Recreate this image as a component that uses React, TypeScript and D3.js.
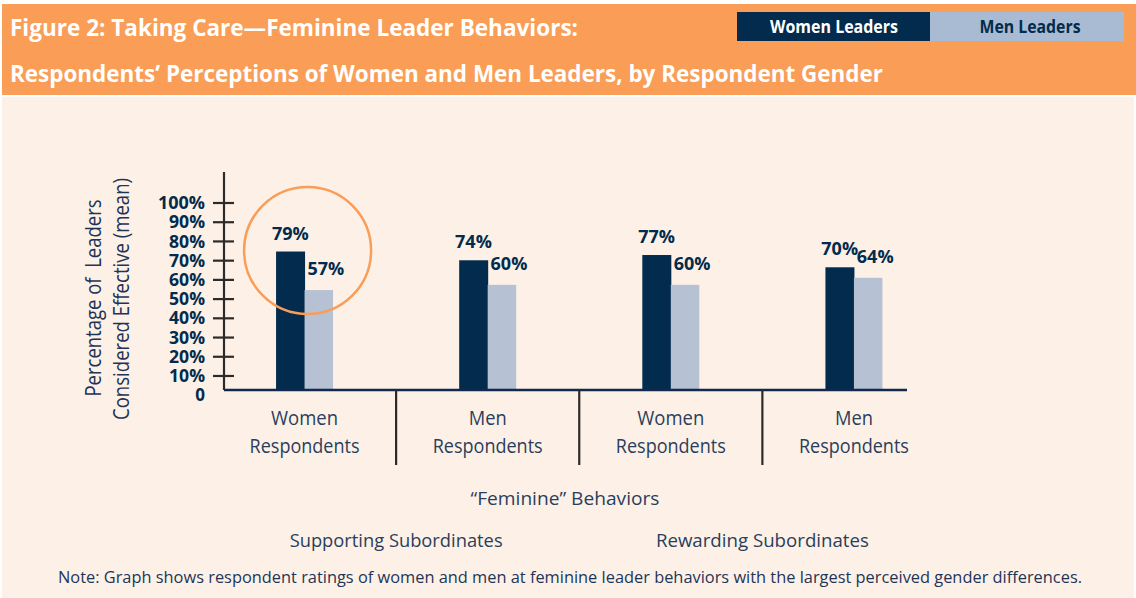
import React from "react";
import * as d3 from "d3";

const categories = ["Women Respondents", "Men Respondents", "Women Respondents", "Men Respondents"];
const womenLeaders = [79, 74, 77, 70];
const menLeaders = [57, 60, 60, 64];
const seriesNames = ["Women Leaders", "Men Leaders"];
const yTicks = [0, 10, 20, 30, 40, 50, 60, 70, 80, 90, 100];
const behaviors = ["Supporting Subordinates", "Rewarding Subordinates"];

const W = 1136;
const H = 598;
const NAVY = "#022b4d";
const LIGHT = "#b6c1d3";
const LEGEND_LIGHT = "#a9bbd3";
const ORANGE = "#f99d57";
const CREAM = "#fdf1e7";
const TEXT = "#1d3557";
const CAT = "#2a3e5c";
const FONT = "'Open Sans', 'Noto Sans', sans-serif";

function T(props: any) {
  const { w, children, ...rest } = props;
  return (
    <text
      fontFamily={FONT}
      textLength={w}
      lengthAdjust={w ? "spacingAndGlyphs" : undefined}
      {...rest}
    >
      {children}
    </text>
  );
}

export default function App() {
  const x = d3.scaleBand<number>().domain(d3.range(categories.length)).range([213, 945.5]).padding(0);
  const series = d3.scaleBand<string>().domain(seriesNames).range([0, 57]);
  const yBar = d3.scaleLinear().domain([0, 100]).range([390, 214.7]);
  const yTick = d3.scaleLinear().domain([0, 100]).range([395.2, 203]);
  const center = (i: number) => (x(i) as number) + x.bandwidth() / 2;
  const barX = (i: number, s: string) => center(i) - 28.5 + (series(s) as number);
  const bw = series.bandwidth();

  const axisX = 224;
  const baseY = 390;

  return (
    <svg width={W} height={H} style={{ position: "absolute", left: 0, top: 0 }}>
      <rect x={0} y={0} width={W} height={H} fill="#ffffff" />
      <rect x={2} y={4} width={W - 2} height={91} fill={ORANGE} />
      <rect x={2} y={97} width={W - 4} height={H - 97} fill={CREAM} />

      {/* Title */}
      <T x={10} y={36} fontSize={24} fontWeight={700} fill="#ffffff" w={568}>
        Figure 2: Taking Care—Feminine Leader Behaviors:
      </T>
      <T x={10} y={82} fontSize={24} fontWeight={700} fill="#ffffff" w={873}>
        Respondents’ Perceptions of Women and Men Leaders, by Respondent Gender
      </T>

      {/* Legend */}
      <rect x={737} y={12} width={193} height={29} fill={NAVY} />
      <rect x={930} y={12} width={194} height={29} fill={LEGEND_LIGHT} />
      <T x={834} y={33} fontSize={18} fontWeight={700} fill="#ffffff" textAnchor="middle" w={128}>
        {seriesNames[0]}
      </T>
      <T x={1030} y={33} fontSize={18} fontWeight={700} fill={NAVY} textAnchor="middle" w={101}>
        {seriesNames[1]}
      </T>

      {/* Y axis title */}
      <g transform="translate(101,298) rotate(-90)">
        <T x={0} y={0} fontSize={21} fill={TEXT} textAnchor="middle" w={197} style={{ whiteSpace: "pre" }}>
          {"Percentage of  Leaders"}
        </T>
      </g>
      <g transform="translate(129,299) rotate(-90)">
        <T x={0} y={0} fontSize={21} fill={TEXT} textAnchor="middle" w={242}>
          Considered Effective (mean)
        </T>
      </g>

      {/* Y axis */}
      <line x1={axisX} x2={axisX} y1={172} y2={baseY} stroke="#2d2a2a" strokeWidth={2.2} />
      {yTicks.filter((t) => t > 0).map((t) => (
        <line key={"t" + t} x1={213} x2={234} y1={yTick(t)} y2={yTick(t)} stroke="#2d2a2a" strokeWidth={2.2} />
      ))}
      {yTicks.map((t) => (
        <T
          key={"l" + t}
          x={205}
          y={yTick(t)}
          dy="0.36em"
          fontSize={17}
          fontWeight={700}
          fill={NAVY}
          textAnchor="end"
          w={t === 0 ? undefined : t === 100 ? 47 : 36}
        >
          {t === 0 ? "0" : `${t}%`}
        </T>
      ))}

      {/* Bars */}
      {categories.map((c, i) => (
        <g key={"g" + i}>
          <rect x={barX(i, seriesNames[0])} y={yBar(womenLeaders[i])} width={bw + 0.5} height={baseY - yBar(womenLeaders[i])} fill={NAVY} />
          <rect x={barX(i, seriesNames[1])} y={yBar(menLeaders[i])} width={bw} height={baseY - yBar(menLeaders[i])} fill={LIGHT} />
          <T x={barX(i, seriesNames[0]) + bw / 2} y={yBar(womenLeaders[i]) - 12} fontSize={18} fontWeight={700} fill={NAVY} textAnchor="middle">
            {womenLeaders[i]}%
          </T>
          <T x={barX(i, seriesNames[1]) + bw / 2 + 7} y={yBar(menLeaders[i]) - 15} fontSize={18} fontWeight={700} fill={NAVY} textAnchor="middle">
            {menLeaders[i]}%
          </T>
        </g>
      ))}

      {/* X baseline */}
      <line x1={axisX} x2={907} y1={baseY} y2={baseY} stroke="#13294b" strokeWidth={2.6} />

      {/* Separators */}
      {categories.slice(1).map((c, i) => (
        <line key={"s" + i} x1={x(i + 1) as number} x2={x(i + 1) as number} y1={baseY} y2={465} stroke="#2d2a2a" strokeWidth={2.2} />
      ))}

      {/* Category labels */}
      {categories.map((c, i) => {
        const [a, b] = c.split(" ");
        return (
          <g key={"c" + i}>
            <T x={center(i)} y={425} fontSize={20} fill={CAT} textAnchor="middle" w={a === "Women" ? 67 : 38}>
              {a}
            </T>
            <T x={center(i)} y={453} fontSize={20} fill={CAT} textAnchor="middle" w={110}>
              {b}
            </T>
          </g>
        );
      })}

      {/* Annotation circle */}
      <circle cx={center(0) + 3} cy={yBar(womenLeaders[0]) - 1} r={63.5} fill="none" stroke={ORANGE} strokeWidth={2.5} />

      {/* Bottom labels */}
      <T x={565} y={505} fontSize={19} fill={CAT} textAnchor="middle" w={189}>
        “Feminine” Behaviors
      </T>
      {behaviors.map((b, k) => (
        <T
          key={"b" + k}
          x={(center(2 * k) + center(2 * k + 1)) / 2}
          y={547}
          fontSize={19}
          fill={CAT}
          textAnchor="middle"
          w={213}
        >
          {b}
        </T>
      ))}
      <T x={58} y={583} fontSize={17} fill={TEXT} w={1024}>
        Note: Graph shows respondent ratings of women and men at feminine leader behaviors with the largest perceived gender differences.
      </T>
    </svg>
  );
}
